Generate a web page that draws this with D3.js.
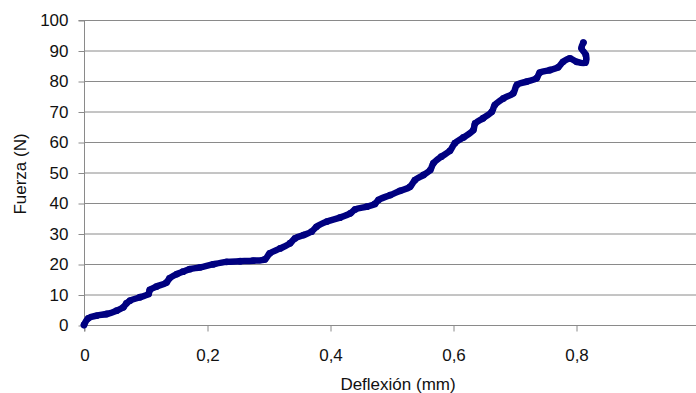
<!DOCTYPE html>
<html>
<head>
<meta charset="utf-8">
<script src="https://cdn.jsdelivr.net/npm/d3@7"></script>
<style>
  html, body { margin: 0; padding: 0; background: #fff; }
  svg { display: block; font-family: "Liberation Sans", Arial, sans-serif; }
</style>
</head>
<body>
<div id="chart"></div>
<script>
// Data
const deflexion = [0, 0.007, 0.021, 0.037, 0.053, 0.064, 0.069, 0.075, 0.091, 0.105, 0.107, 0.118, 0.134, 0.139, 0.151, 0.161, 0.172, 0.189, 0.210, 0.232, 0.254, 0.275, 0.294, 0.302, 0.319, 0.335, 0.343, 0.357, 0.370, 0.378, 0.395, 0.416, 0.433, 0.441, 0.460, 0.473, 0.479, 0.498, 0.514, 0.530, 0.538, 0.552, 0.563, 0.568, 0.581, 0.595, 0.603, 0.617, 0.633, 0.636, 0.649, 0.663, 0.668, 0.682, 0.698, 0.704, 0.720, 0.736, 0.741, 0.758, 0.771, 0.779, 0.790, 0.801, 0.815, 0.816, 0.809, 0.812];
const fuerza = [0, 2.2, 3.1, 3.6, 4.7, 5.8, 7.1, 8.0, 9.1, 10.2, 11.5, 12.6, 13.9, 15.3, 16.7, 17.5, 18.3, 18.9, 19.9, 20.7, 20.9, 21.1, 21.5, 23.5, 25.1, 26.8, 28.4, 29.5, 30.6, 32.2, 33.9, 35.2, 36.6, 37.9, 38.8, 39.7, 41.0, 42.6, 44.0, 45.3, 47.5, 49.2, 50.8, 53.0, 55.2, 57.1, 59.6, 61.5, 63.9, 66.1, 67.8, 69.9, 72.1, 74.3, 76.0, 78.7, 79.8, 80.9, 82.7, 83.6, 84.5, 86.3, 87.4, 86.3, 86.0, 88.5, 90.7, 92.6];
const xTicks = [0, 0.2, 0.4, 0.6, 0.8, 1];
const yTicks = [0, 10, 20, 30, 40, 50, 60, 70, 80, 90, 100];

const W = 696, H = 393;
const svg = d3.select("#chart").append("svg").attr("width", W).attr("height", H);

// scales (plot right edge lies just past the window, like the reference)
const x = d3.scaleLinear().domain([0, 1]).range([84, 699]);
const y = d3.scaleLinear().domain([0, 100]).range([325, 20]);
const fmt = d => String(d).replace(".", ",");

// horizontal gridlines
svg.append("g").selectAll("line").data(yTicks.slice(1)).join("line")
  .attr("x1", x(0)).attr("x2", x(1))
  .attr("y1", d => y(d) + 0.5).attr("y2", d => y(d) + 0.5)
  .attr("stroke", "#8a8a8a").attr("stroke-width", 1);

// y axis
const yAxis = svg.append("g").attr("transform", `translate(${x(0) + 0.5},0.5)`)
  .call(d3.axisLeft(y).tickValues(yTicks).tickSize(6).tickPadding(10).tickFormat(fmt));

// x axis
const xAxis = svg.append("g").attr("transform", `translate(0.5,${y(0) + 0.5})`)
  .call(d3.axisBottom(x).tickValues(xTicks).tickSize(6).tickPadding(17).tickFormat(fmt));

[yAxis, xAxis].forEach(a => {
  a.select(".domain").attr("stroke", "#8a8a8a");
  a.selectAll(".tick line").attr("stroke", "#8a8a8a");
  a.selectAll("text").attr("font-size", 17).attr("fill", "#111")
    .attr("font-family", "'Liberation Sans', Arial, sans-serif");
});
xAxis.select(".domain").attr("d", `M${x(0)},6V0H${x(1)}`);
yAxis.select(".domain").attr("d", `M-6,${y(100)}H0V${y(0)}`);

// axis titles
svg.append("text").attr("x", 398).attr("y", 390).attr("text-anchor", "middle")
  .attr("font-size", 17).attr("fill", "#111").text("Deflexión (mm)");
svg.append("text").attr("transform", "translate(26,174) rotate(-90)")
  .attr("text-anchor", "middle").attr("font-size", 17).attr("fill", "#111").text("Fuerza (N)");

// series
const pts = deflexion.map((d, i) => [d, fuerza[i]]);
const line = d3.line().x(d => x(d[0])).y(d => y(d[1])).curve(d3.curveCatmullRom.alpha(0.5));
svg.append("path").datum(pts)
  .attr("fill", "none").attr("stroke", "#000080").attr("stroke-width", 6.5)
  .attr("stroke-linejoin", "round").attr("stroke-linecap", "round")
  .attr("d", line);
svg.append("g").selectAll("circle").data(pts).join("circle")
  .attr("cx", d => x(d[0])).attr("cy", d => y(d[1])).attr("r", 3.4)
  .attr("fill", "#000080");
</script>
</body>
</html>
